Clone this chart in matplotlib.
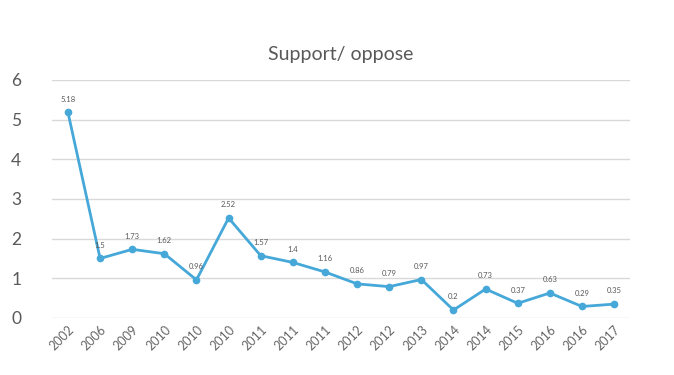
import matplotlib
matplotlib.use("Agg")
import matplotlib.pyplot as plt

years = ["2002", "2006", "2009", "2010", "2010", "2010", "2011", "2011", "2011",
         "2012", "2012", "2013", "2014", "2014", "2015", "2016", "2016", "2017"]
values = [5.18, 1.5, 1.73, 1.62, 0.96, 2.52, 1.57, 1.4, 1.16,
          0.86, 0.79, 0.97, 0.2, 0.73, 0.37, 0.63, 0.29, 0.35]
labels = ["5.18", "1.5", "1.73", "1.62", "0.96", "2.52", "1.57", "1.4", "1.16",
          "0.86", "0.79", "0.97", "0.2", "0.73", "0.37", "0.63", "0.29", "0.35"]
yticks = [0, 1, 2, 3, 4, 5, 6]

plt.rcParams['font.family'] = ['Lato', 'DejaVu Sans']
fig = plt.figure(figsize=(6.74, 3.75), dpi=100)
ax = fig.add_axes([0.077, 0.152, 0.858, 0.635])

x = list(range(len(values)))
color = "#45a8d8"
ax.plot(x, values, color=color, linewidth=2, marker='o', markersize=4.5, zorder=3)
for xi, v, lab in zip(x, values, labels):
    ax.annotate(lab, (xi, v), xytext=(0, 7), textcoords='offset points',
                ha='center', va='bottom', fontsize=5.5, color='#595959')

ax.set_xlim(-0.5, len(values) - 0.5)
ax.set_ylim(0, 6)
ax.set_yticks(yticks)
ax.set_yticklabels([str(t) for t in yticks], fontsize=12.5, color='#595959')
ax.set_xticks(x)
ax.set_xticklabels(years, rotation=45, ha='right', rotation_mode='anchor',
                   fontsize=9, color='#666666')
ax.grid(axis='y', color='#d9d9d9', linewidth=1)
ax.set_axisbelow(True)
for s in ax.spines.values():
    s.set_visible(False)
ax.tick_params(axis='both', length=0)
ax.tick_params(axis='y', pad=22)
ax.tick_params(axis='x', pad=4)
ax.set_title("Support/ oppose", fontsize=14, color='#595959', pad=14)

fig.savefig("out.png", dpi=100)
